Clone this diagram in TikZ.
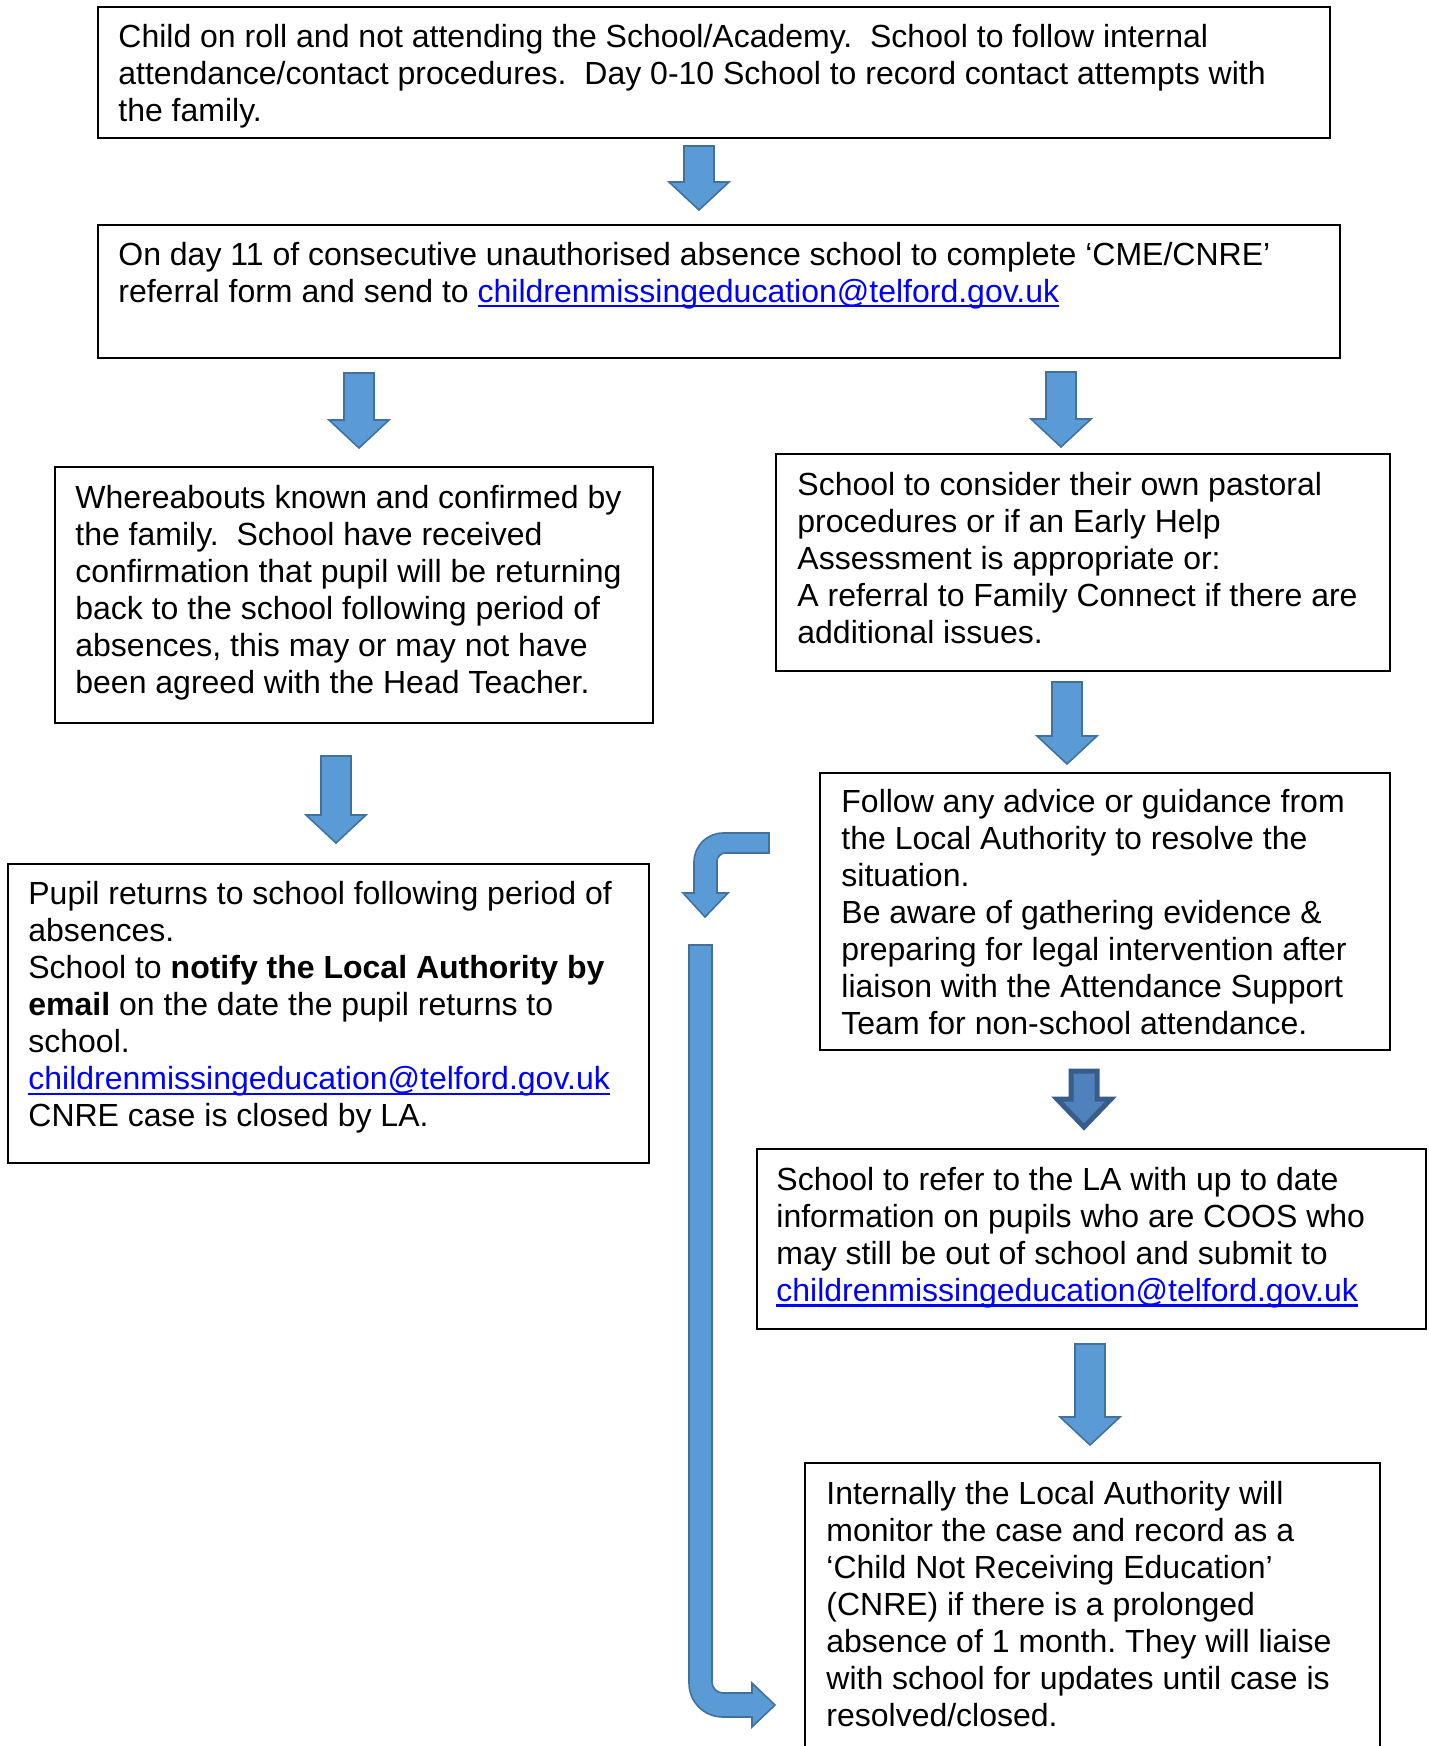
\documentclass[tikz,border=0pt]{standalone}
\usepackage{fontspec}
\setmainfont{Liberation Sans}
\usetikzlibrary{fit}
\definecolor{arrfill}{HTML}{5B9BD5}
\definecolor{arrline}{HTML}{41719C}
\definecolor{darkfill}{HTML}{4F81BD}
\definecolor{darkline}{HTML}{385D8A}
\definecolor{linkblue}{HTML}{0000FF}
\newsavebox{\mailbox}
\newcommand{\maillink}{\leavevmode\begingroup\color{linkblue}%
  \sbox{\mailbox}{childrenmissingeducation@telford.gov.uk}%
  \rlap{\rule[-2.6pt]{\wd\mailbox}{1.1pt}}\usebox{\mailbox}\endgroup}
\newcommand{\txtfont}{\fontsize{16}{18.55}\selectfont}
% block arrow pointing down: centre x, top y, tip y, style
\newcommand{\BlkDown}[4]{%
  \path[#4] (#1-15,#2) -- (#1+15,#2) -- (#1+15,#3-28) -- (#1+30,#3-28) -- (#1,#3)
    -- (#1-30,#3-28) -- (#1-15,#3-28) -- cycle;}
\tikzset{
  box/.style={draw=black, line width=1pt, inner sep=0pt},
  txt/.style={anchor=base west, inner sep=0pt, align=flush left, text width=640pt,
    font=\txtfont},
  blockarrow/.style={fill=arrfill, draw=arrline, line width=0.8pt, line join=miter},
  darkarrow/.style={fill=darkfill, draw=darkline, line width=2.5pt, line join=miter},
}
\frenchspacing
\begin{document}
\begin{tikzpicture}[x=0.5pt,y=-0.5pt]
\useasboundingbox (0,0) rectangle (1429,1746);
% boxes
\node[box, fit={(98,7) (1330,138)}] (b1) {};
\node[box, fit={(98,225) (1340,358)}] (b2) {};
\node[box, fit={(55,467) (653,723)}] (b3) {};
\node[box, fit={(776,454) (1390,671)}] (b4) {};
\node[box, fit={(820,773) (1390,1050)}] (b5) {};
\node[box, fit={(8,864) (649,1163)}] (b6) {};
\node[box, fit={(757,1149) (1426,1329)}] (b7) {};
\node[box, fit={(805,1463) (1380,1775)}] (b8) {};
% texts
\node[txt] (t1) at (118,47) {Child on roll and not attending the School/Academy.~ School to follow internal\\
attendance/contact procedures.~ Day 0-10 School to record contact attempts with\\
the family.};
\node[txt] (t2) at (118,265) {On day 11 of consecutive unauthorised absence school to complete ‘CME/CNRE’\\
referral form and send to \maillink};
\node[txt] (t3) at (75,508) {Whereabouts known and confirmed by\\
the family.~ School have received\\
confirmation that pupil will be returning\\
back to the school following period of\\
absences, this may or may not have\\
been agreed with the Head Teacher.};
\node[txt] (t4) at (797,495) {School to consider their own pastoral\\
procedures or if an Early Help\\
Assessment is appropriate or:\\
A referral to Family Connect if there are\\
additional issues.};
\node[txt] (t5) at (841,812) {Follow any advice or guidance from\\
the Local Authority to resolve the\\
situation.\\
Be aware of gathering evidence \&\\
preparing for legal intervention after\\
liaison with the Attendance Support\\
Team for non-school attendance.};
\node[txt] (t6) at (28,904) {Pupil returns to school following period of\\
absences.\\
School to \textbf{notify the Local Authority by}\\
\textbf{email} on the date the pupil returns to\\
school.\\
\maillink\\
CNRE case is closed by LA.};
\node[txt] (t7) at (776,1190) {School to refer to the LA with up to date\\
information on pupils who are COOS who\\
may still be out of school and submit to\\
\maillink};
\node[txt] (t8) at (826,1504) {Internally the Local Authority will\\
monitor the case and record as a\\
‘Child Not Receiving Education’\\
(CNRE) if there is a prolonged\\
absence of 1 month. They will liaise\\
with school for updates until case is\\
resolved/closed.};
% straight block arrows
\BlkDown{699}{146}{210}{blockarrow}
\BlkDown{359}{373}{448}{blockarrow}
\BlkDown{1061}{372}{447}{blockarrow}
\BlkDown{1067}{682}{764}{blockarrow}
\BlkDown{336}{756}{843}{blockarrow}
\BlkDown{1090}{1344}{1445}{blockarrow}
% dark arrow
\path[darkarrow] (1071,1071) -- (1097,1071) -- (1097,1099) -- (1111,1099) -- (1084,1127)
  -- (1057,1099) -- (1071,1099) -- cycle;
% bent arrow (turn down)
\path[blockarrow] (769,833) -- (723,833) .. controls (707,833) and (694,846) .. (694,862)
  -- (694,893) -- (683,893) -- (705,917) -- (728,893) -- (717,893) -- (717,861)
  .. controls (717,857) and (721,853) .. (725,853) -- (769,853) -- cycle;
% long bent arrow (down then right)
\path[blockarrow] (689,945) -- (689,1683) .. controls (689,1702) and (704,1717) .. (723,1717)
  -- (752,1717) -- (752,1727) -- (775,1705) -- (752,1683) -- (752,1693) -- (723,1693)
  .. controls (717,1693) and (712,1688) .. (712,1682) -- (712,945) -- cycle;
\end{tikzpicture}
\end{document}
